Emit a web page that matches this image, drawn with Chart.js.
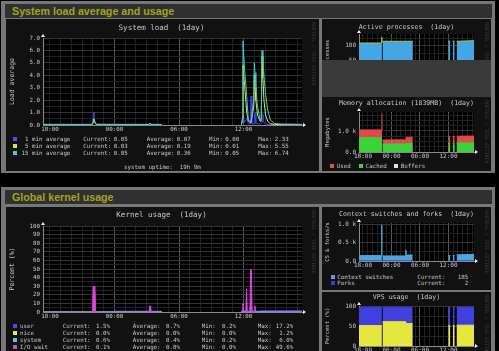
<!DOCTYPE html>
<html>
<head>
<meta charset="utf-8">
<script src="https://cdn.jsdelivr.net/npm/chart.js@4.4.1/dist/chart.umd.min.js"></script>
<style>
html, body { margin: 0; padding: 0; background: #000; width: 499px; height: 351px; overflow: hidden; }
body { position: relative; font-family: "DejaVu Sans Mono", monospace; }
.box { position: absolute; background: #777; }
.head { position: absolute; background: #303030; color: #a3a321; font: bold 10.7px "Liberation Sans", Arial, sans-serif; line-height: 14px; padding-left: 7px; box-sizing: border-box; white-space: nowrap; }
.panel { position: absolute; background: #111; overflow: hidden; }
.panel canvas { position: absolute; }
.lg { position: absolute; font-size: 5.8px; line-height: 6px; color: #c8c8c8; white-space: pre; }
.sw { position: absolute; width: 4px; height: 4px; }
.wm { position: absolute; writing-mode: vertical-rl; font-size: 4.8px; color: #3a3a3a; white-space: nowrap; }
</style>
</head>
<body>
<div class="box" style="left:1px;top:1px;width:494px;height:172px"></div>
<div class="head" style="left:5px;top:4px;width:487px;height:14px">System load average and usage</div>
<div class="panel" style="left:6px;top:19px;width:313px;height:152px"><canvas id="load" width="309" height="118" style="left:1px;top:1px"></canvas></div>
<div class="panel" style="left:322px;top:19px;width:169px;height:41px"><canvas id="procs" width="167" height="72" style="left:1px;top:1px"></canvas></div>
<div class="panel" style="left:322px;top:60px;width:169px;height:37px;background:#3a3a3a"></div>
<div class="panel" style="left:322px;top:97px;width:169px;height:74px"><canvas id="mem" width="167" height="64" style="left:1px;top:1px"></canvas></div>

<div class="box" style="left:1px;top:187px;width:494px;height:170px"></div>
<div class="head" style="left:5px;top:190px;width:487px;height:14px">Global kernel usage</div>
<div class="panel" style="left:6px;top:207px;width:313px;height:150px"><canvas id="kern" width="309" height="120" style="left:1px;top:1px"></canvas></div>
<div class="panel" style="left:322px;top:207px;width:169px;height:83px"><canvas id="cs" width="167" height="63" style="left:1px;top:1px"></canvas></div>
<div class="panel" style="left:322px;top:292px;width:169px;height:65px"><canvas id="vps" width="167" height="66" style="left:1px;top:1px"></canvas></div>

<script>
// hours counted from 18:00 of the first day
const timeTickHours = [0, 6, 12, 18];
const timeTickLabels = ['18:00', '00:00', '06:00', '12:00'];

// system load
const loadHours = [-0.65, 3.9, 4.0, 4.08, 4.15, 4.3, 9.15, 9.3, 9.45, 10.4, 10.45, 17.8, 17.9, 17.95, 18.1, 18.3, 18.45, 18.62, 18.7, 18.78, 18.95, 19.0, 19.07, 19.15, 19.3, 19.55, 19.65, 19.72, 19.8, 19.9, 20.05, 20.25, 20.5, 20.9, 21.5, 23.44];
const load1 = [0.05, 0.05, 0.4, 1.05, 0.3, 0.05, 0.05, 0.15, 0.05, 0.05, null, 0.05, 0.3, 0.8, 0.2, 0.5, 0.1, 0.1, 2.33, 0.1, 0.1, 0.3, 1.0, 0.1, 0.1, 0.1, 0.1, 0.2, 0.9, 0.2, 0.1, 0.05, 0.05, 0.05, 0.05, 0.05];
const load5 = [0.03, 0.03, 0.2, 0.5, 0.3, 0.05, 0.03, 0.1, 0.03, 0.03, null, 0.03, 0.5, 4.8, 3.2, 1.0, 0.3, 0.2, 0.2, 0.2, 1.5, 4.0, 3.0, 2.0, 0.8, 0.3, 0.3, 5.55, 3.8, 2.0, 0.8, 0.3, 0.1, 0.05, 0.03, 0.03];
const load15 = [0.05, 0.05, 0.1, 0.3, 0.2, 0.05, 0.05, 0.12, 0.05, 0.05, null, 0.05, 0.3, 6.74, 4.5, 2.3, 0.4, 0.3, 0.3, 0.3, 2.0, 5.0, 4.2, 3.0, 1.5, 0.4, 0.4, 6.0, 5.2, 4.0, 2.5, 1.2, 0.4, 0.12, 0.08, 0.05];
const loadNames = [' 1 min average', ' 5 min average', '15 min average'];
const loadCurrent = ['0.05', '0.03', '0.05'];
const loadAverage = ['0.07', '0.19', '0.36'];
const loadMin = ['0.00', '0.01', '0.05'];
const loadMax = ['2.33', '5.55', '6.74'];

// kernel usage (%)
const kernHours = [-0.65, 3.95, 4.02, 4.1, 4.18, 4.25, 6.0, 6.1, 9.2, 9.28, 9.35, 9.42, 10.4, 10.45, 17.8, 17.88, 17.95, 18.02, 18.22, 18.28, 18.35, 18.6, 18.66, 18.72, 18.8, 19.0, 19.06, 19.12, 19.3, 19.6, 23.44];
const kernUser = [0.2, 0.2, 0.5, 1.0, 0.5, 0.2, 0.3, 1.0, 1.0, 1.5, 1.5, 1.0, 1.0, null, 0.5, 2.0, 5.0, 2.0, 1.0, 3.0, 1.0, 1.0, 17.2, 10.0, 1.0, 1.0, 3.0, 1.0, 1.0, 1.5, 1.5];
const kernNice = [0, 0, 0, 0, 0, 0, 0, 0, 0, 0, 0, 0, 0, null, 0, 0, 0, 0, 0, 0, 0, 0, 1.2, 0, 0, 0, 0, 0, 0, 0, 0];
const kernSystem = [0.2, 0.2, 0.4, 0.6, 0.4, 0.2, 0.3, 0.5, 0.5, 0.8, 0.8, 0.5, 0.5, null, 0.3, 1.0, 2.0, 1.0, 0.5, 1.5, 0.5, 0.5, 6.0, 3.0, 0.5, 0.5, 1.0, 0.5, 0.5, 0.6, 0.6];
const kernIowait = [0, 0, 29, 30, 29, 0, 0, 0, 0, 7, 7, 0, 0, null, 0, 0, 10, 0, 0, 27, 0, 0, 50, 49, 0, 0, 7, 0, 0, 0, 0.1];
const kernNames = ['user', 'nice', 'system', 'I/O wait'];
const kernCurrent = ['1.5%', '0.0%', '0.6%', '0.1%'];
const kernAverage = ['0.7%', '0.0%', '0.4%', '0.8%'];
const kernMin = ['0.2%', '0.0%', '0.2%', '0.0%'];
const kernMax = ['17.2%', '1.2%', '6.0%', '49.6%'];

// active processes
const procHours = [-0.84, 3.88, 3.94, 3.98, 4.02, 4.1, 10.5, 10.55, 17.96, 18.38, 18.42, 18.9, 19.3, 19.35, 19.7, 23.37];
const procCount = [110, 110, 130, 110, null, 116, 116, null, 116, 116, null, 116, 116, null, 116, 118];

// memory (MB)
const memHours = [-0.84, 3.95, 4.0, 4.03, 4.1, 9.0, 9.05, 10.47, 10.52, 17.96, 18.38, 18.42, 18.9, 19.3, 19.35, 19.7, 23.37];
const memUsedTop = [1050, 1050, 1839, null, 570, 580, 700, 700, null, 740, 740, null, 740, 740, null, 750, 760];
const memCached = [680, 680, 680, null, 375, 385, 405, 410, null, 420, 420, null, 420, 420, null, 430, 430];

// context switches and forks (/s)
const csHours = [-0.84, 3.88, 3.94, 3.98, 4.02, 4.08, 8.95, 9.02, 9.1, 10.47, 10.52, 17.96, 18.38, 18.42, 18.9, 19.3, 19.35, 19.7, 23.37];
const csSwitches = [150, 150, 1000, 150, null, 140, 140, 300, 165, 165, null, 150, 150, null, 150, 150, null, 170, 185];
const csForks = [2, 2, 8, 2, null, 2, 2, 4, 2, 2, null, 2, 2, null, 2, 2, null, 2, 2];

// VPS usage (%)
const vpsHours = [-0.84, 3.97, 4.02, 4.1, 9.0, 9.1, 10.47, 10.52, 17.96, 18.38, 18.42, 18.9, 19.3, 19.35, 19.7, 23.37];
const vpsTotal = [99, 99, null, 99, 99, 99, 99, null, 99, 99, null, 99, 99, null, 99, 99];
const vpsUsed = [52, 52, null, 62, 62, 57, 57, null, 52, 52, null, 52, 52, null, 53, 53];

const MONO = '"DejaVu Sans Mono", monospace';
const TXT = '#c8c8c8';
const XMAJOR = '#5a5a5a';
const YMAJOR = '#343434';
const MINOR = '#222222';
const AXIS = '#8a8a8a';

function pts(hours, vals) {
    return hours.map((h, i) => ({ x: h, y: vals[i] }));
}

function steps(max, step) {
    const t = [];
    for (let v = 0; v <= max + 1e-9; v += step) t.push(+v.toFixed(2));
    return t;
}

const rrdPlugin = {
    id: 'rrd',
    beforeDraw(chart) {
        const { ctx, chartArea: a } = chart;
        ctx.save();
        ctx.fillStyle = '#000';
        ctx.fillRect(a.left, a.top, a.right - a.left, a.bottom - a.top);
        ctx.restore();
    },
    afterDraw(chart, args, o) {
        const { ctx, chartArea: a, width } = chart;
        ctx.save();
        ctx.fillStyle = TXT;
        ctx.font = o.titleSize + 'px ' + MONO;
        ctx.textAlign = 'center';
        ctx.textBaseline = 'middle';
        ctx.fillText(o.title, width / 2, o.titleY);
        // axis arrows
        ctx.fillStyle = '#f0f0f0';
        ctx.beginPath();
        ctx.moveTo(a.left - 2, a.top - 1);
        ctx.lineTo(a.left + 2, a.top - 1);
        ctx.lineTo(a.left, a.top - 4);
        ctx.fill();
        ctx.beginPath();
        ctx.moveTo(a.right + 1, a.bottom - 2);
        ctx.lineTo(a.right + 1, a.bottom + 2);
        ctx.lineTo(a.right + 4, a.bottom);
        ctx.fill();
        ctx.restore();
    }
};

function rrdChart(id, c) {
    const cv = document.getElementById(id);
    const W = cv.width, H = cv.height;
    const tickFont = { family: MONO, size: c.tickSize };
    return new Chart(cv, {
        type: 'line',
        data: { datasets: c.datasets },
        options: {
            responsive: false,
            animation: false,
            events: [],
            layout: { padding: { top: c.plot.t, right: W - c.plot.r, left: 0, bottom: 0 } },
            elements: { point: { radius: 0 }, line: { borderWidth: 1, tension: 0 } },
            plugins: {
                legend: { display: false },
                tooltip: { enabled: false },
                title: { display: false },
                rrd: { title: c.title, titleY: c.titleY, titleSize: c.titleSize }
            },
            scales: {
                x: {
                    type: 'linear', min: c.xMin, max: c.xMax,
                    afterBuildTicks: s => {
                        const t = [];
                        for (let h = Math.ceil(c.xMin); h <= c.xMax; h++) t.push({ value: h });
                        s.ticks = t;
                    },
                    afterFit: s => { s.height = H - c.plot.b; },
                    ticks: {
                        autoSkip: false, maxRotation: 0, padding: 1, color: TXT, font: tickFont,
                        callback: v => {
                            const i = timeTickHours.indexOf(v);
                            return i < 0 ? '' : timeTickLabels[i];
                        }
                    },
                    grid: {
                        drawTicks: false,
                        color: g => (g.tick && g.tick.value !== 0 && timeTickHours.includes(g.tick.value)) ? XMAJOR : MINOR
                    },
                    border: { color: AXIS }
                },
                y: {
                    type: 'linear', min: 0, max: c.yMax,
                    afterBuildTicks: s => { s.ticks = c.yGrid.map(v => ({ value: v })); },
                    afterFit: s => { s.width = c.plot.l; },
                    ticks: { autoSkip: false, padding: 3, color: TXT, font: tickFont, callback: c.yLabel },
                    grid: {
                        drawTicks: false,
                        color: g => (g.tick && c.yLabel(g.tick.value) !== '') ? YMAJOR : MINOR
                    },
                    border: { color: AXIS },
                    title: {
                        display: true, text: c.yTitle, color: TXT,
                        font: { family: MONO, size: c.yTitleSize },
                        padding: { top: c.yTitlePad, bottom: 0 }
                    }
                }
            }
        },
        plugins: [rrdPlugin]
    });
}

function line(hours, vals, color, order, extra) {
    return Object.assign({ data: pts(hours, vals), borderColor: color, backgroundColor: color, fill: false, order: order }, extra || {});
}

rrdChart('load', {
    plot: { l: 36, r: 295, t: 18, b: 105 },
    title: 'System load  (1day)', titleY: 8.5, titleSize: 7.5, tickSize: 5.8,
    xMin: -0.65, xMax: 23.44, yMax: 7,
    yGrid: steps(7, 0.5),
    yLabel: v => Number.isInteger(v) ? v.toFixed(1) : '',
    yTitle: 'Load average', yTitleSize: 6.5, yTitlePad: 1,
    datasets: [
        line(loadHours, load1, '#3c3cff', 3),
        line(loadHours, load5, '#e6e632', 2),
        line(loadHours, load15, '#3ccccc', 1)
    ]
});

rrdChart('kern', {
    plot: { l: 36, r: 295, t: 18, b: 104 },
    title: 'Kernel usage  (1day)', titleY: 7.5, titleSize: 7.5, tickSize: 5.8,
    xMin: -0.65, xMax: 23.44, yMax: 100,
    yGrid: steps(100, 5),
    yLabel: v => v % 10 === 0 ? String(v) : '',
    yTitle: 'Percent (%)', yTitleSize: 6.5, yTitlePad: 1,
    datasets: [
        line(kernHours, kernIowait, '#dd44dd', 1, { fill: 'origin' }),
        line(kernHours, kernSystem, '#33cccc', 2),
        line(kernHours, kernNice, '#eeee44', 3),
        line(kernHours, kernUser, '#4444ee', 4, { fill: 'origin' })
    ]
});

rrdChart('procs', {
    plot: { l: 36, r: 151, t: 14, b: 55 },
    title: 'Active processes  (1day)', titleY: 7.5, titleSize: 6.6, tickSize: 6,
    xMin: -0.84, xMax: 23.37, yMax: 141,
    yGrid: [0, 25, 50, 75, 100, 125],
    yLabel: v => v % 50 === 0 ? String(v) : '',
    yTitle: 'Processes', yTitleSize: 5.5, yTitlePad: 1.5,
    datasets: [
        line(procHours, procCount, '#a8c838', 1, { fill: 'origin', backgroundColor: '#46a6e4' })
    ]
});

rrdChart('mem', {
    plot: { l: 36, r: 151, t: 14, b: 54 },
    title: 'Memory allocation (1839MB)  (1day)', titleY: 5.5, titleSize: 6.6, tickSize: 6,
    xMin: -0.84, xMax: 23.37, yMax: 1900,
    yGrid: [0, 250, 500, 750, 1000, 1250, 1500, 1750],
    yLabel: v => v === 0 ? '0.0' : (v === 1000 ? '1.0 k' : ''),
    yTitle: 'Megabytes', yTitleSize: 5.5, yTitlePad: 1.5,
    datasets: [
        line(memHours, memCached, '#3cd23c', 1, { fill: 'origin' }),
        line(memHours, memUsedTop, '#e04a4a', 2, { fill: 'origin' })
    ]
});

rrdChart('cs', {
    plot: { l: 36, r: 151, t: 15, b: 53 },
    title: 'Context switches and forks  (1day)', titleY: 6.5, titleSize: 6.6, tickSize: 6,
    xMin: -0.84, xMax: 23.37, yMax: 1050,
    yGrid: [0, 250, 500, 750, 1000],
    yLabel: v => v === 0 ? '0.0' : (v === 500 ? '0.5 k' : (v === 1000 ? '1.0 k' : '')),
    yTitle: 'CS & forks/s', yTitleSize: 5.5, yTitlePad: 1.5,
    datasets: [
        line(csHours, csForks, '#3030d0', 1),
        line(csHours, csSwitches, '#4aa6dc', 2, { fill: 'origin' })
    ]
});

rrdChart('vps', {
    plot: { l: 36, r: 151, t: 13, b: 53 },
    title: 'VPS usage  (1day)', titleY: 4.5, titleSize: 6.6, tickSize: 6,
    xMin: -0.84, xMax: 23.37, yMax: 102,
    yGrid: [0, 25, 50, 75, 100],
    yLabel: v => v % 50 === 0 ? String(v) : '',
    yTitle: 'Percent (%)', yTitleSize: 5.5, yTitlePad: 1.5,
    datasets: [
        line(vpsHours, vpsUsed, '#e6e640', 1, { fill: 'origin' }),
        line(vpsHours, vpsTotal, '#4040dc', 2, { fill: 'origin' })
    ]
});

// legends, as text beside the charts
function put(text, x, y, right) {
    const d = document.createElement('div');
    d.className = 'lg';
    d.textContent = text;
    d.style.left = x + 'px';
    d.style.top = (y - 3) + 'px';
    if (right) d.style.transform = 'translateX(-100%)';
    document.body.appendChild(d);
}
function swatch(color, x, y) {
    const d = document.createElement('div');
    d.className = 'sw';
    d.style.background = color;
    d.style.left = x + 'px';
    d.style.top = (y - 2) + 'px';
    document.body.appendChild(d);
}
function mark(x, y) {
    const d = document.createElement('div');
    d.className = 'wm';
    d.textContent = 'RRDTOOL / TOBI OETIKER';
    d.style.left = x + 'px';
    d.style.top = y + 'px';
    document.body.appendChild(d);
}

const loadColors = ['#4a4aff', '#e0e040', '#40d0d0'];
const loadRows = [139.3, 146.2, 153.2];
loadNames.forEach((n, i) => {
    const y = loadRows[i];
    swatch(loadColors[i], 13, y);
    put(n, 21.5, y);
    put('Current:', 83.3, y); put(loadCurrent[i], 127.7, y, true);
    put('Average:', 146.7, y); put(loadAverage[i], 190.7, y, true);
    put('Min:', 209, y); put(loadMin[i], 239.3, y, true);
    put('Max:', 258.3, y); put(loadMax[i], 288.7, y, true);
});
put('system uptime:  19h 9m', 124, 166.7);

const kernColors = ['#4a4aee', '#e8e840', '#40d0d0', '#dd44dd'];
const kernRows = [326, 333.2, 340.3, 347.4];
kernNames.forEach((n, i) => {
    const y = kernRows[i];
    swatch(kernColors[i], 12.5, y);
    put(n, 20, y);
    put('Current:', 62.7, y); put(kernCurrent[i], 110, y, true);
    put('Average:', 132.7, y); put(kernAverage[i], 180, y, true);
    put('Min:', 201.7, y); put(kernMin[i], 236, y, true);
    put('Max:', 257.7, y); put(kernMax[i], 293.3, y, true);
});

swatch('#e05050', 330, 166); put('Used', 336.7, 166);
swatch('#40d040', 359, 166); put('Cached', 365.7, 166);
swatch('#e0e0e0', 394, 166); put('Buffers', 400.7, 166);

swatch('#4aa6dc', 330.5, 276.7); put('Context switches', 337.3, 276.7);
put('Current:', 417.3, 276.7); put('185', 468.3, 276.7, true);
swatch('#3a3ad8', 330.5, 283.3); put('Forks', 337.3, 283.3);
put('Current:', 417.3, 283.3); put('2', 468.3, 283.3, true);

mark(311, 22);
mark(311, 210);
mark(484, 22);
mark(484, 100);
mark(484, 210);
mark(484, 294);
</script>
</body>
</html>
